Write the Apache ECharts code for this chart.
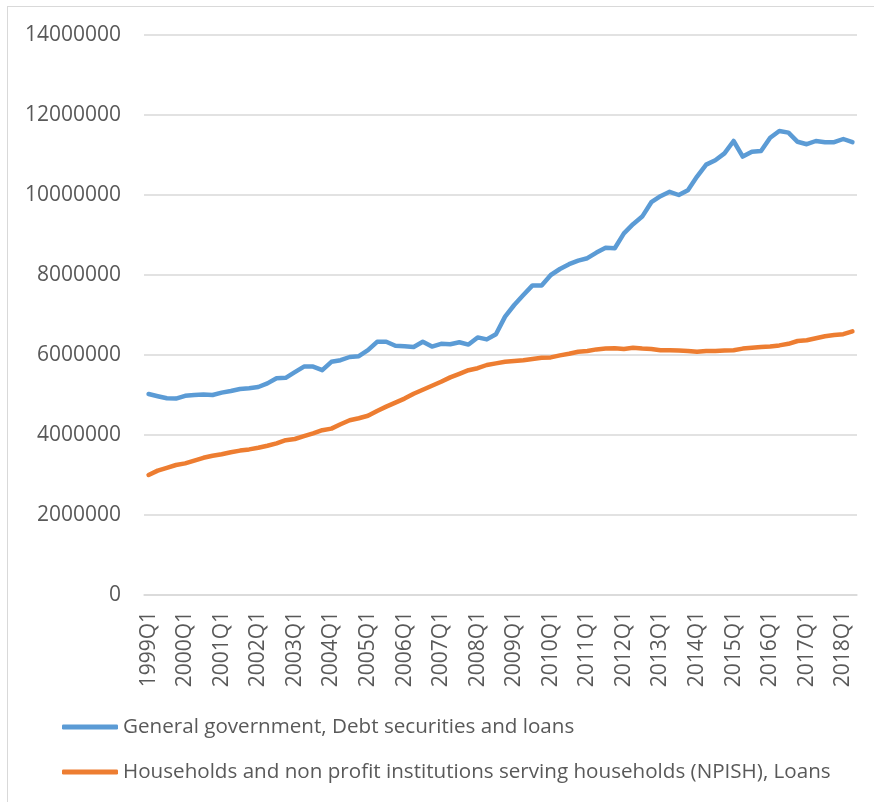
<!DOCTYPE html>
<html>
<head>
<meta charset="utf-8">
<script src="https://cdn.jsdelivr.net/npm/echarts@6/dist/echarts.min.js"></script>
<style>
  html, body { margin: 0; padding: 0; background: #fff; }
  #chartDom { width: 874px; height: 802px; }
  /* thin frame like the Excel chart area */
  #frame { position: absolute; left: 7px; top: 6px; width: 900px; height: 900px;
           border-left: 1px solid #d9d9d9; border-top: 1px solid #d9d9d9; pointer-events: none; }
</style>
</head>
<body>
<div id="chartDom"></div>
<div id="frame"></div>
<script>
// quarters 1999Q1 .. 2018Q2
const years = [1999, 2000, 2001, 2002, 2003, 2004, 2005, 2006, 2007, 2008, 2009,
               2010, 2011, 2012, 2013, 2014, 2015, 2016, 2017, 2018];
const quarters = [];
years.forEach(y => ['Q1', 'Q2', 'Q3', 'Q4'].forEach(q => quarters.push(y + q)));
quarters.length = 78;

const government = [
  5025000, 4970000, 4920000, 4910000, 4980000, 5000000, 5010000, 5000000, 5060000, 5100000,
  5150000, 5170000, 5200000, 5290000, 5420000, 5430000, 5570000, 5710000, 5710000, 5620000,
  5830000, 5870000, 5950000, 5970000, 6120000, 6330000, 6330000, 6230000, 6220000, 6200000,
  6330000, 6210000, 6280000, 6270000, 6320000, 6260000, 6440000, 6390000, 6520000, 6960000,
  7250000, 7500000, 7740000, 7740000, 8000000, 8150000, 8270000, 8360000, 8420000, 8560000,
  8680000, 8670000, 9040000, 9270000, 9460000, 9820000, 9970000, 10080000, 10000000, 10120000,
  10460000, 10760000, 10870000, 11040000, 11350000, 10960000, 11080000, 11100000, 11430000, 11600000,
  11560000, 11330000, 11270000, 11350000, 11320000, 11320000, 11400000, 11320000
];
const households = [
  3000000, 3110000, 3180000, 3250000, 3290000, 3360000, 3430000, 3480000, 3520000, 3570000,
  3610000, 3640000, 3680000, 3730000, 3790000, 3870000, 3900000, 3970000, 4040000, 4120000,
  4160000, 4270000, 4370000, 4420000, 4480000, 4600000, 4710000, 4810000, 4910000, 5030000,
  5130000, 5230000, 5330000, 5440000, 5530000, 5620000, 5670000, 5750000, 5790000, 5830000,
  5850000, 5870000, 5900000, 5930000, 5940000, 5990000, 6030000, 6080000, 6100000, 6140000,
  6160000, 6170000, 6150000, 6180000, 6160000, 6150000, 6120000, 6120000, 6110000, 6100000,
  6080000, 6100000, 6100000, 6110000, 6120000, 6160000, 6180000, 6200000, 6210000, 6240000,
  6280000, 6350000, 6370000, 6420000, 6470000, 6500000, 6520000, 6590000
];
const seriesNames = [
  'General government, Debt securities and loans',
  'Households and non profit institutions serving households (NPISH), Loans'
];

// legend font: use a narrow face if present, else Open Sans; size fitted to the long label
function hasFont(name) {
  const c = document.createElement('canvas').getContext('2d');
  c.font = '40px monospace';
  const a = c.measureText(seriesNames[1]).width;
  c.font = '40px "' + name + '", monospace';
  return c.measureText(seriesNames[1]).width !== a;
}
const legendFont = hasFont('Liberation Sans Narrow') ? 'Liberation Sans Narrow' : 'Open Sans';
const mctx = document.createElement('canvas').getContext('2d');
mctx.font = '100px "' + legendFont + '"';
const legendSize = 708 / mctx.measureText(seriesNames[1]).width * 100;

const axisFont = 'Open Sans';
const grey = '#595959';

let myChart = echarts.init(document.getElementById('chartDom'), null, { renderer: 'canvas' });
myChart.setOption({
  animation: false,
  backgroundColor: '#fff',
  grid: { left: 144, right: 17, top: 35, bottom: 207, containLabel: false },
  legend: {
    orient: 'vertical',
    left: 62,
    top: 715,
    padding: 0,
    itemGap: 21,
    itemWidth: 56,
    itemHeight: 5,
    icon: 'roundRect',
    data: seriesNames,
    textStyle: { color: grey, fontFamily: legendFont, fontSize: legendSize, lineHeight: 24 }
  },
  xAxis: {
    type: 'category',
    boundaryGap: true,
    data: quarters,
    axisLine: { show: true, lineStyle: { color: '#d9d9d9', width: 1.5 } },
    axisTick: { show: false },
    axisLabel: {
      interval: 3,
      rotate: 90,
      margin: 16,
      color: grey,
      fontFamily: axisFont,
      fontSize: 21
    }
  },
  yAxis: {
    type: 'value',
    min: 0,
    max: 14000000,
    interval: 2000000,
    axisLine: { show: false },
    axisTick: { show: false },
    axisLabel: {
      margin: 23,
      color: grey,
      fontFamily: axisFont,
      fontSize: 21,
      formatter: v => String(v)
    },
    splitLine: { lineStyle: { color: '#d9d9d9', width: 1.5 } }
  },
  series: [
    {
      name: seriesNames[0],
      type: 'line',
      data: government,
      showSymbol: false,
      color: '#5B9BD5',
      lineStyle: { width: 4.5, cap: 'round', join: 'round' }
    },
    {
      name: seriesNames[1],
      type: 'line',
      data: households,
      showSymbol: false,
      color: '#ED7D31',
      lineStyle: { width: 4.5, cap: 'round', join: 'round' }
    }
  ]
});
</script>
</body>
</html>
